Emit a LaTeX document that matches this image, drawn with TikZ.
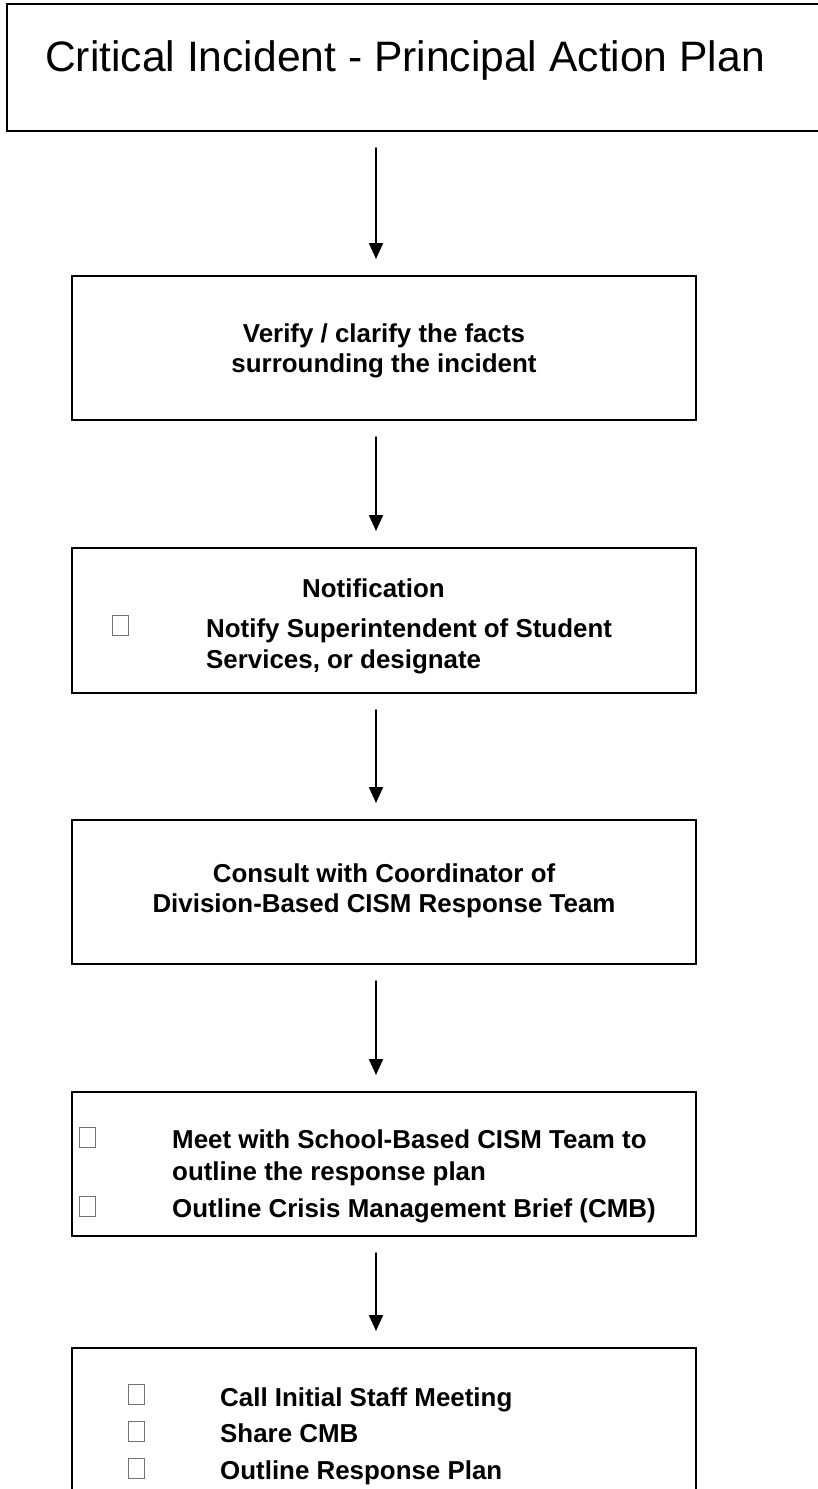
\documentclass[tikz,border=0pt]{standalone}
\usepackage{fontspec}
\setmainfont{Liberation Sans}
\usepackage{tikz}
\usetikzlibrary{arrows.meta}

\begin{document}
\begin{tikzpicture}[x=1pt,y=-1pt,line cap=round,
  box/.style={draw,line width=2pt,minimum width=624pt,minimum height=144pt,inner sep=0pt},
  txt/.style={anchor=base,inner sep=0pt,font=\bfseries\fontsize{25.9}{30}\selectfont},
  ltxt/.style={txt,anchor=base west},
  chk/.style={draw=black!55,line width=1pt,minimum width=16pt,minimum height=20pt,inner sep=0pt,anchor=south west},
  flow/.style={-{Triangle[width=14pt,length=16pt]},line width=2pt,shorten <=16pt,shorten >=16pt}]
\path[use as bounding box,fill=white] (0,0) rectangle (817,1489);
\coordinate (axis) at (376,0);
\node[box,minimum width=820pt,minimum height=127pt] (title) at (417,67.5) {};
\node[anchor=base,inner sep=0pt,font=\fontsize{42.6}{50}\selectfont] (titletext) at (405,71) {Critical Incident - Principal Action Plan};
\node[box] (verify) at (384,348) {};
\node[txt] (verify1) at (384,342) {Verify / clarify the facts};
\node[txt] (verify2) at (384,372) {surrounding the incident};
\node[box,minimum height=145pt] (notify) at (384,620.5) {};
\node[ltxt] (notify0) at (302,597) {Notification};
\node[chk] (notifychk) at (112,636) {};
\node[ltxt] (notify1) at (206,637) {Notify Superintendent of Student};
\node[ltxt] (notify2) at (206,668) {Services, or designate};
\node[box] (consult) at (384,892) {};
\node[txt] (consult1) at (384,882) {Consult with Coordinator of};
\node[txt] (consult2) at (384,912) {Division-Based CISM Response Team};
\node[box] (meet) at (384,1164) {};
\node[chk] (meetchk1) at (79,1148) {};
\node[ltxt] (meet1) at (172,1148) {Meet with School-Based CISM Team to};
\node[ltxt] (meet2) at (172,1180) {outline the response plan};
\node[chk] (meetchk2) at (79,1217) {};
\node[ltxt] (meet3) at (172,1217) {Outline Crisis Management Brief (CMB)};
\node[box] (staff) at (384,1420) {};
\node[chk] (staffchk1) at (128,1405) {};
\node[ltxt] (staff1) at (220,1406) {Call Initial Staff Meeting};
\node[chk] (staffchk2) at (128,1442) {};
\node[ltxt] (staff2) at (220,1442) {Share CMB};
\node[chk] (staffchk3) at (128,1479) {};
\node[ltxt] (staff3) at (220,1479) {Outline Response Plan};
\draw[flow] (title.south -| axis) -- (verify.north -| axis);
\draw[flow] (verify.south -| axis) -- (notify.north -| axis);
\draw[flow] (notify.south -| axis) -- (consult.north -| axis);
\draw[flow] (consult.south -| axis) -- (meet.north -| axis);
\draw[flow] (meet.south -| axis) -- (staff.north -| axis);
\end{tikzpicture}
\end{document}
